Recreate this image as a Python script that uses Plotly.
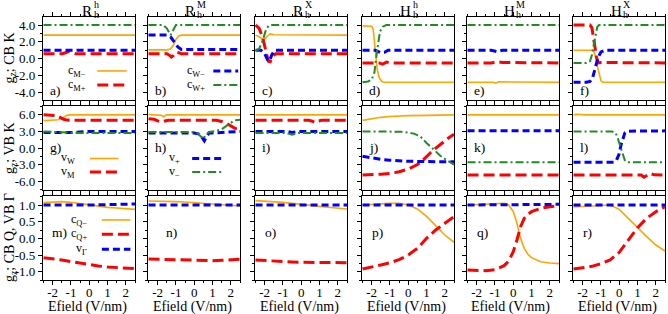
import plotly.graph_objects as go

W, H = 668, 314
FONT = "Liberation Serif"

# ---------------- text ----------------
COL_MAIN = ["R", "R", "R", "H", "H", "H"]
COL_SUP = ["h", "M", "X", "h", "M", "X"]
COL_SUB = ["h", "h", "h", "h", "h", "h"]
ROW_TITLES = ["g<sub>z</sub>; CB K", "g<sub>z</sub>; VB K", "g<sub>z</sub>; CB Q, VB Γ"]
PANEL_LABELS = ["a)", "b)", "c)", "d)", "e)", "f)", "g)", "h)", "i)", "j)", "k)", "l)",
                "m)", "n)", "o)", "p)", "q)", "r)"]
X_TITLE = "Efield (V/nm)"
X_TICKS = [-2, -1, 0, 1, 2]
X_TICKTEXT = ["-2", "-1", "0", "1", "2"]
Y_TICKS = [[-4, -2, 0, 2, 4], [-6, -3, 0, 3, 6], [-1, -0.5, 0, 0.5, 1]]
Y_TICKTEXT = [["-4.0", "-2.0", "0.0", "2.0", "4.0"],
              ["-6.0", "-3.0", "0.0", "3.0", "6.0"],
              ["-1.0", "-0.5", "0.0", "0.5", "1.0"]]
Y_RANGES = [[-4.9, 4.95], [-7.6, 7.6], [-1.25, 1.27]]
Y_MINOR = [1.0, 1.5, 0.25]
X_RANGE = [-2.53, 2.5]

# ---------------- data ----------------
X_FLAT = [-2.5, 2.5]

# Row 1 (CB K): orange c_M-, red c_M+, blue c_W-, green c_W+
a_or_x, a_or_y = X_FLAT, [2.8, 2.8]
a_rd_x, a_rd_y = [-2.5, -1.5, -1.3, -1.12, -0.95, -0.75, 2.5], [0.6, 0.6, 0.7, 0.9, 0.75, 0.6, 0.6]
a_bl_x, a_bl_y = X_FLAT, [1.0, 1.0]
a_gr_x, a_gr_y = X_FLAT, [4.0, 4.0]

b_or_x, b_or_y = [-2.5, -1.5, -1.3, -1.15, -1.0, -0.85, -0.7, 2.5], [1.05, 1.05, 1.15, 1.6, 2.3, 2.7, 2.8, 2.8]
b_rd_x, b_rd_y = [-2.5, -1.5, -1.35, -1.25, -1.15, -1.0, -0.85, -0.7, 2.5], [0.6, 0.6, 0.4, 0.2, 0.35, 0.75, 0.7, 0.6, 0.6]
b_bl_x, b_bl_y = [-2.5, -1.5, -1.3, -1.1, -0.9, -0.7, 2.5], [2.8, 2.8, 2.6, 2.0, 1.4, 1.1, 1.1]
b_gr_x, b_gr_y = [-2.5, -1.7, -1.5, -1.3, -1.15, -1.0, 2.5], [4.0, 4.0, 3.6, 2.8, 3.4, 4.0, 4.0]

c_or_x, c_or_y = [-2.5, -2.3, -2.1, -2.0, -1.85, -1.7, -1.5, 2.5], [2.8, 2.6, 2.3, 2.3, 2.7, 2.95, 2.85, 2.8]
c_rd_x, c_rd_y = [-2.5, -2.3, -2.1, -1.9, -1.8, -1.7, -1.55, -1.4, 2.5], [4.0, 3.6, 2.4, 0.6, -0.3, -0.35, 0.3, 0.6, 0.6]
c_bl_x, c_bl_y = [-2.5, -2.2, -2.0, -1.85, -1.75, -1.6, -1.45, 2.5], [1.0, 1.0, 0.6, -0.1, -0.3, 0.5, 1.0, 1.0]
c_gr_x, c_gr_y = [-2.5, -2.3, -2.1, -1.95, -1.8, -1.6, 2.5], [0.9, 1.2, 2.2, 3.3, 3.9, 4.0, 4.0]

d_or_x, d_or_y = [-2.5, -2.0, -1.92, -1.85, -1.78, -1.7, -1.6, -1.45, -1.3, 2.5], [3.9, 3.85, 3.5, 2.2, 0.5, -1.2, -2.2, -2.7, -2.8, -2.8]
d_rd_x, d_rd_y = [-2.5, -1.6, -1.4, -1.2, -1.0, 2.5], [-0.5, -0.5, -0.65, -0.4, -0.5, -0.5]
d_bl_x, d_bl_y = [-2.5, -1.8, -1.5, -1.3, -1.1, 2.5], [1.0, 1.0, 0.7, 0.75, 1.0, 1.0]
d_gr_x, d_gr_y = [-2.5, -2.2, -2.0, -1.85, -1.75, -1.65, -1.55, -1.4, -1.2, 2.5], [-2.8, -2.7, -2.5, -1.6, 0.2, 2.0, 3.2, 3.8, 4.0, 4.0]

e_or_x, e_or_y = [-2.5, -1.1, -0.95, -0.8, 2.5], [-2.8, -2.8, -2.9, -2.75, -2.8]
e_rd_x, e_rd_y = [-2.5, -1.2, -0.9, -0.6, 2.5], [-0.5, -0.5, -0.35, -0.45, -0.5]
e_bl_x, e_bl_y = [-2.5, -1.2, -0.9, -0.6, 2.5], [1.0, 1.0, 0.85, 1.0, 1.0]
e_gr_x, e_gr_y = X_FLAT, [4.0, 4.0]

f_or_x, f_or_y = [-2.5, -1.5, -1.4, -1.3, -1.2, -1.1, -1.0, -0.9, 2.5], [1.0, 1.0, 0.9, 0.3, -0.9, -1.9, -2.6, -2.8, -2.8]
f_rd_x, f_rd_y = [-2.5, -1.6, -1.5, -1.42, -1.33, -1.25, -1.15, -1.0, 2.5], [4.0, 4.0, 3.7, 2.8, 1.4, 0.2, -0.5, -0.45, -0.5]
f_bl_x, f_bl_y = [-2.5, -1.8, -1.6, -1.45, -1.3, -1.15, -1.0, -0.8, 2.5], [-2.8, -2.8, -2.7, -2.2, -1.0, 0.2, 0.8, 1.0, 1.0]
f_gr_x, f_gr_y = [-2.5, -1.8, -1.6, -1.5, -1.4, -1.3, -1.2, -1.1, 2.5], [-0.5, -0.5, -0.3, 0.4, 1.6, 2.9, 3.8, 4.0, 4.0]

# Row 2 (VB K): orange v_W, red v_M, blue v_+, green v_-
g_or_x, g_or_y = [-2.5, -1.9, -1.7, -1.5, -1.35, -1.2, -1.0, 2.5], [4.95, 5.0, 5.1, 5.4, 5.75, 5.95, 6.0, 6.0]
g_rd_x, g_rd_y = [-2.5, -2.0, -1.8, -1.6, -1.4, -1.2, -1.0, 2.5], [6.0, 5.95, 5.85, 5.55, 5.2, 5.05, 5.0, 5.0]
g_bl_x, g_bl_y = [-2.5, -1.0, 0.0, 2.5], [2.8, 2.8, 3.0, 3.0]
g_gr_x, g_gr_y = [-2.5, -1.5, -0.5, 2.5], [3.0, 2.9, 2.7, 2.7]

h_or_x, h_or_y = [-2.5, -2.0, -1.8, -1.67, -1.55, -1.4, 2.5], [6.05, 6.0, 5.9, 5.65, 5.95, 6.0, 6.0]
h_rd_x, h_rd_y = [-2.5, -2.2, -2.0, -1.8, -1.6, -1.4, 1.2, 1.5, 1.8, 2.0, 2.2, 2.5], [5.3, 5.2, 4.9, 4.7, 4.9, 5.0, 5.0, 4.8, 4.4, 4.0, 3.6, 3.3]
h_bl_x, h_bl_y = [-2.5, 0.0, 0.3, 0.45, 0.55, 0.65, 0.8, 1.5, 2.5], [2.7, 2.7, 2.5, 1.8, 1.3, 1.9, 2.7, 2.8, 3.0]
h_gr_x, h_gr_y = [-2.5, 0.0, 0.2, 0.4, 0.5, 0.6, 0.8, 1.2, 1.5, 1.8, 2.0, 2.2, 2.5], [2.9, 2.9, 2.6, 1.9, 1.6, 2.2, 2.9, 3.1, 3.4, 4.1, 4.6, 5.0, 5.1]

i_or_x, i_or_y = X_FLAT, [6.0, 6.0]
i_rd_x, i_rd_y = [-2.5, 0.4, 0.6, 0.76, 0.9, 1.1, 2.5], [5.0, 5.0, 4.85, 4.6, 4.85, 5.0, 5.0]
i_bl_x, i_bl_y = [-2.5, -0.8, -0.5, -0.2, 2.5], [3.0, 3.0, 2.8, 3.0, 3.0]
i_gr_x, i_gr_y = [-2.5, -0.8, -0.5, -0.2, 2.5], [2.7, 2.7, 2.4, 2.7, 2.7]

j_or_x, j_or_y = [-2.5, -2.0, -1.5, -1.0, -0.5, 0.0, 1.0, 2.0, 2.5], [5.0, 5.3, 5.55, 5.7, 5.8, 5.85, 5.9, 5.98, 6.0]
j_rd_x = [-2.5, -2.0, -1.5, -1.0, -0.5, 0.0, 0.5, 0.8, 1.0, 1.2, 1.4, 1.6, 1.8, 2.0, 2.2, 2.5]
j_rd_y = [-4.9, -4.85, -4.75, -4.6, -4.3, -3.8, -3.0, -2.2, -1.5, -0.9, -0.3, 0.25, 0.8, 1.3, 1.8, 2.5]
j_bl_x, j_bl_y = [-2.5, -2.0, -1.5, -1.0, -0.5, 0.0, 1.0, 2.5], [-1.5, -1.8, -2.05, -2.2, -2.35, -2.4, -2.45, -2.5]
j_gr_x = [-2.5, -1.0, -0.4, 0.0, 0.3, 0.66, 1.0, 1.4, 1.75, 2.1, 2.5]
j_gr_y = [3.0, 3.0, 2.95, 2.8, 2.6, 2.1, 0.9, -0.3, -1.4, -2.2, -3.0]

k_or_x, k_or_y = X_FLAT, [6.0, 6.0]
k_rd_x, k_rd_y = X_FLAT, [-4.9, -4.9]
k_bl_x, k_bl_y = X_FLAT, [3.1, 3.1]
k_gr_x, k_gr_y = X_FLAT, [-2.6, -2.6]

l_or_x, l_or_y = [-2.5, -2.3, -2.1, -1.9, 2.5], [6.0, 6.1, 6.05, 6.0, 6.0]
l_rd_x, l_rd_y = [-2.5, 1.2, 1.35, 1.5, 1.7, 1.9, 2.5], [-4.9, -4.9, -5.3, -5.0, -4.6, -4.85, -4.9]
l_bl_x, l_bl_y = [-2.5, -0.3, -0.15, 0.0, 0.1, 0.2, 0.3, 0.45, 2.5], [-2.6, -2.6, -2.2, -1.0, 0.6, 1.9, 2.7, 3.05, 3.1]
l_gr_x, l_gr_y = [-2.5, -0.4, -0.2, -0.1, 0.0, 0.1, 0.2, 0.3, 0.45, 2.5], [3.0, 3.0, 2.7, 2.0, 0.9, -0.3, -1.5, -2.2, -2.6, -2.6]

# Row 3 (CB Q, VB Gamma): orange c_Q-, red c_Q+, blue v_Gamma
X_ROW3 = [-2.5, -2.0, -1.5, -1.0, -0.5, 0.0, 0.5, 1.0, 1.5, 2.0, 2.5]
m_or_y = [1.07, 1.09, 1.1, 1.08, 1.04, 1.0, 0.96, 0.93, 0.91, 0.89, 0.87]
m_rd_y = [-0.58, -0.61, -0.65, -0.7, -0.75, -0.79, -0.83, -0.86, -0.88, -0.9, -0.91]
m_bl_x, m_bl_y = [-2.5, 0.0, 2.5], [1.0, 1.0, 1.03]

n_or_y = [1.12, 1.12, 1.11, 1.1, 1.09, 1.07, 1.05, 1.03, 1.0, 0.99, 0.97]
n_rd_y = [-0.62, -0.63, -0.64, -0.65, -0.66, -0.67, -0.67, -0.67, -0.66, -0.65, -0.63]
n_bl_x, n_bl_y = X_FLAT, [1.0, 1.0]

o_or_y = [1.13, 1.12, 1.1, 1.08, 1.05, 1.03, 0.99, 0.96, 0.93, 0.9, 0.88]
o_rd_y = [-0.65, -0.67, -0.69, -0.7, -0.71, -0.72, -0.72, -0.72, -0.73, -0.73, -0.73]
o_bl_x, o_bl_y = X_FLAT, [1.0, 1.0]

p_or_y = [1.0, 1.02, 1.04, 1.05, 1.05, 1.0, 0.88, 0.66, 0.38, 0.1, -0.12]
p_rd_y = [-0.92, -0.87, -0.8, -0.73, -0.64, -0.5, -0.3, 0.0, 0.25, 0.45, 0.65]
p_bl_x, p_bl_y = X_FLAT, [1.0, 1.0]

q_or_x = [-2.5, -2.0, -1.5, -1.0, -0.5, -0.25, 0.0, 0.2, 0.4, 0.6, 0.8, 1.0, 1.5, 2.0, 2.5]
q_or_y = [1.0, 1.01, 1.03, 1.05, 1.05, 1.0, 0.8, 0.45, 0.0, -0.3, -0.48, -0.58, -0.7, -0.74, -0.76]
q_rd_y = [-0.95, -0.96, -0.97, -0.94, -0.82, -0.68, -0.4, -0.05, 0.35, 0.6, 0.72, 0.8, 0.9, 0.95, 0.98]
q_bl_x, q_bl_y = X_FLAT, [1.0, 1.02]

r_or_y = [0.94, 0.96, 0.98, 1.0, 1.0, 0.87, 0.6, 0.3, 0.05, -0.2, -0.38]
r_rd_y = [-0.92, -0.89, -0.84, -0.76, -0.65, -0.42, -0.05, 0.32, 0.6, 0.8, 0.95]
r_bl_x, r_bl_y = X_FLAT, [1.0, 1.0]

# ---------------- styles ----------------
STYLE = {
    "or": dict(color="#FFA500", width=1.6, dash="solid"),
    "rd": dict(color="#FF0000", width=3, dash="11px,5px"),
    "bl": dict(color="#0000FF", width=3, dash="7px,4px"),
    "gr": dict(color="#228B22", width=2, dash="8px,3px,2px,3px"),
}

PANELS = [
    [("or", a_or_x, a_or_y), ("rd", a_rd_x, a_rd_y), ("bl", a_bl_x, a_bl_y), ("gr", a_gr_x, a_gr_y)],
    [("or", b_or_x, b_or_y), ("rd", b_rd_x, b_rd_y), ("bl", b_bl_x, b_bl_y), ("gr", b_gr_x, b_gr_y)],
    [("or", c_or_x, c_or_y), ("rd", c_rd_x, c_rd_y), ("bl", c_bl_x, c_bl_y), ("gr", c_gr_x, c_gr_y)],
    [("or", d_or_x, d_or_y), ("rd", d_rd_x, d_rd_y), ("bl", d_bl_x, d_bl_y), ("gr", d_gr_x, d_gr_y)],
    [("or", e_or_x, e_or_y), ("rd", e_rd_x, e_rd_y), ("bl", e_bl_x, e_bl_y), ("gr", e_gr_x, e_gr_y)],
    [("or", f_or_x, f_or_y), ("rd", f_rd_x, f_rd_y), ("bl", f_bl_x, f_bl_y), ("gr", f_gr_x, f_gr_y)],
    [("or", g_or_x, g_or_y), ("rd", g_rd_x, g_rd_y), ("bl", g_bl_x, g_bl_y), ("gr", g_gr_x, g_gr_y)],
    [("or", h_or_x, h_or_y), ("rd", h_rd_x, h_rd_y), ("bl", h_bl_x, h_bl_y), ("gr", h_gr_x, h_gr_y)],
    [("or", i_or_x, i_or_y), ("rd", i_rd_x, i_rd_y), ("bl", i_bl_x, i_bl_y), ("gr", i_gr_x, i_gr_y)],
    [("or", j_or_x, j_or_y), ("rd", j_rd_x, j_rd_y), ("bl", j_bl_x, j_bl_y), ("gr", j_gr_x, j_gr_y)],
    [("or", k_or_x, k_or_y), ("rd", k_rd_x, k_rd_y), ("bl", k_bl_x, k_bl_y), ("gr", k_gr_x, k_gr_y)],
    [("or", l_or_x, l_or_y), ("rd", l_rd_x, l_rd_y), ("bl", l_bl_x, l_bl_y), ("gr", l_gr_x, l_gr_y)],
    [("or", X_ROW3, m_or_y), ("rd", X_ROW3, m_rd_y), ("bl", m_bl_x, m_bl_y)],
    [("or", X_ROW3, n_or_y), ("rd", X_ROW3, n_rd_y), ("bl", n_bl_x, n_bl_y)],
    [("or", X_ROW3, o_or_y), ("rd", X_ROW3, o_rd_y), ("bl", o_bl_x, o_bl_y)],
    [("or", X_ROW3, p_or_y), ("rd", X_ROW3, p_rd_y), ("bl", p_bl_x, p_bl_y)],
    [("or", q_or_x, q_or_y), ("rd", q_or_x, q_rd_y), ("bl", q_bl_x, q_bl_y)],
    [("or", X_ROW3, r_or_y), ("rd", X_ROW3, r_rd_y), ("bl", r_bl_x, r_bl_y)],
]

# in-panel legends: panel index -> text x (right edge), sample-line x span, items
LEGENDS = {
    0: dict(tx=0.49, lx=(0.59, 0.91), items=[("c<sub>M−</sub>", "or", 0.35), ("c<sub>M+</sub>", "rd", 0.18)]),
    1: dict(tx=0.64, lx=(0.71, 0.98), items=[("c<sub>W−</sub>", "bl", 0.35), ("c<sub>W+</sub>", "gr", 0.18)]),
    6: dict(tx=0.37, lx=(0.51, 0.82), items=[("v<sub>W</sub>", "or", 0.375), ("v<sub>M</sub>", "rd", 0.215)]),
    7: dict(tx=0.37, lx=(0.48, 0.80), items=[("v<sub>+</sub>", "bl", 0.375), ("v<sub>−</sub>", "gr", 0.215)]),
    12: dict(tx=0.50, lx=(0.64, 0.95), items=[("c<sub>Q−</sub>", "or", 0.715), ("c<sub>Q+</sub>", "rd", 0.545),
                                              ("v<sub>Γ</sub>", "bl", 0.365)]),
}

# ---------------- geometry (pixels) ----------------
COL_LEFT = [43, 148, 255, 362, 467, 573]
PANEL_W = 92
ROW_TOP = [17, 106, 196]
ROW_BOT = [100, 190, 280]
LABEL_POS = [(0.05, 0.12)] * 6 + [(0.05, 0.51)] * 6 + [(0.08, 0.57), (0.17, 0.57), (0.09, 0.57),
                                                      (0.09, 0.57), (0.09, 0.57), (0.09, 0.57)]

fig = go.Figure()
layout = dict(
    width=W, height=H, margin=dict(l=0, r=0, t=0, b=0),
    paper_bgcolor="white", plot_bgcolor="white", showlegend=False,
    font=dict(family=FONT, size=13, color="black"),
)
annotations, shapes = [], []

for idx, series in enumerate(PANELS):
    r, c = divmod(idx, 6)
    n = idx + 1
    xa = "x" if n == 1 else f"x{n}"
    ya = "y" if n == 1 else f"y{n}"
    for key, xs, ys in series:
        st = STYLE[key]
        fig.add_trace(go.Scatter(x=xs, y=ys, mode="lines", xaxis=xa, yaxis=ya,
                                 line=dict(color=st["color"], width=st["width"], dash=st["dash"]),
                                 hoverinfo="skip"))
    x0 = COL_LEFT[c] / W
    x1 = (COL_LEFT[c] + PANEL_W) / W
    y0 = 1 - ROW_BOT[r] / H
    y1 = 1 - ROW_TOP[r] / H
    layout["xaxis" if n == 1 else f"xaxis{n}"] = dict(
        domain=[x0, x1], anchor=ya, range=X_RANGE, tickvals=X_TICKS, ticktext=X_TICKTEXT,
        showticklabels=(r == 2), ticks="outside", ticklen=4, tickwidth=1, tickcolor="black",
        minor=dict(dtick=0.5, tick0=0, ticks="outside", ticklen=2, tickwidth=1, tickcolor="black"),
        showline=True, linecolor="black", linewidth=1.3, mirror="ticks",
        showgrid=False, zeroline=False, tickfont=dict(size=13), automargin=False,
        ticklabelstandoff=-4,
    )
    layout["yaxis" if n == 1 else f"yaxis{n}"] = dict(
        domain=[y0, y1], anchor=xa, range=Y_RANGES[r], tickvals=Y_TICKS[r], ticktext=Y_TICKTEXT[r],
        showticklabels=(c == 0), ticks="outside", ticklen=4, tickwidth=1, tickcolor="black",
        minor=dict(dtick=Y_MINOR[r], tick0=0, ticks="outside", ticklen=2, tickwidth=1, tickcolor="black"),
        showline=True, linecolor="black", linewidth=1.3, mirror=True,
        showgrid=False, zeroline=False, tickfont=dict(size=13), automargin=False,
    )
    lx, ly = LABEL_POS[idx]
    annotations.append(dict(text=PANEL_LABELS[idx], xref=f"{xa} domain", yref=f"{ya} domain",
                            x=lx, y=ly, xanchor="left", yanchor="middle", showarrow=False,
                            font=dict(size=13.5)))
    if idx in LEGENDS:
        lg = LEGENDS[idx]
        for label, key, yy in lg["items"]:
            st = STYLE[key]
            annotations.append(dict(text=label, xref=f"{xa} domain", yref=f"{ya} domain",
                                    x=lg["tx"], y=yy, xanchor="right", yanchor="middle",
                                    showarrow=False, font=dict(size=12)))
            shapes.append(dict(type="line", xref=f"{xa} domain", yref=f"{ya} domain",
                               x0=lg["lx"][0], x1=lg["lx"][1], y0=yy, y1=yy,
                               line=dict(color=st["color"], width=st["width"], dash=st["dash"])))
    if r == 2:
        annotations.append(dict(text=X_TITLE, xref="paper", yref="paper",
                                x=(COL_LEFT[c] + PANEL_W / 2 - 2) / W, y=1 - 307 / H,
                                xanchor="center", yanchor="middle", showarrow=False,
                                font=dict(size=14)))

# column titles (stacked super/subscript)
for c in range(6):
    cx = COL_LEFT[c] + PANEL_W / 2
    sup_w = 8 if COL_SUP[c] == "M" else (6 if COL_SUP[c] == "X" else 5)
    total = 10 + sup_w
    left = cx - total / 2
    annotations.append(dict(text=COL_MAIN[c], xref="paper", yref="paper", x=(left + 5) / W, y=1 - 11 / H,
                            xanchor="center", yanchor="middle", showarrow=False, font=dict(size=15)))
    annotations.append(dict(text=COL_SUP[c], xref="paper", yref="paper", x=(left + 10) / W, y=1 - 5 / H,
                            xanchor="left", yanchor="middle", showarrow=False, font=dict(size=10)))
    annotations.append(dict(text=COL_SUB[c], xref="paper", yref="paper", x=(left + 10) / W, y=1 - 15 / H,
                            xanchor="left", yanchor="middle", showarrow=False, font=dict(size=10)))

# row titles
for r in range(3):
    cy = (ROW_TOP[r] + ROW_BOT[r]) / 2
    annotations.append(dict(text=ROW_TITLES[r], xref="paper", yref="paper", x=10 / W, y=1 - cy / H,
                            xanchor="center", yanchor="middle", textangle=-90, showarrow=False,
                            font=dict(size=14)))

layout["annotations"] = annotations
layout["shapes"] = shapes
fig.update_layout(**layout)
fig.write_html("out.html", config={"displayModeBar": False},
               post_script="document.body.style.margin='0px';document.body.style.overflow='hidden';")
